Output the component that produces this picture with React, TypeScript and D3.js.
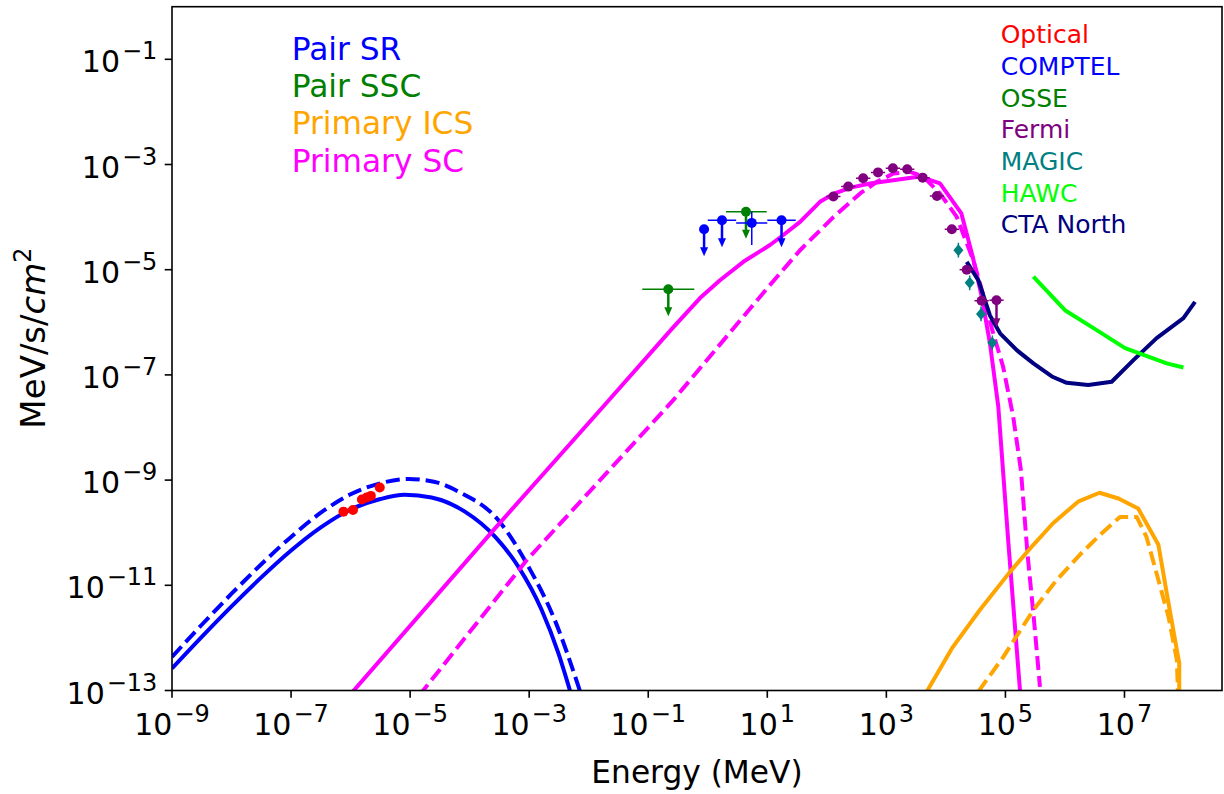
import React from "react";
import * as d3 from "d3";

// ---- data (log10 E [MeV], log10 flux [MeV/s/cm^2]) ----
const pairSRSolid: [number, number][] = [
  [-9.0, -12.58], [-8.5, -11.98], [-8.0, -11.4], [-7.5, -10.85], [-7.0, -10.34], [-6.5, -9.9],
  [-6.0, -9.56], [-5.5, -9.36], [-5.09, -9.28], [-4.64, -9.33], [-4.08, -9.6], [-3.57, -10.08],
  [-3.18, -10.65], [-2.79, -11.47], [-2.51, -12.29], [-2.31, -13.02],
];
const pairSRDashed: [number, number][] = [
  [-9.0, -12.36], [-8.5, -11.75], [-8.0, -11.16], [-7.5, -10.6], [-7.0, -10.08], [-6.5, -9.62],
  [-6.0, -9.27], [-5.5, -9.06], [-5.03, -8.98], [-4.6, -9.03], [-4.19, -9.22], [-3.52, -9.76],
  [-3.01, -10.65], [-2.57, -11.66], [-2.15, -13.0],
];
const primarySCSolid: [number, number][] = [
  [-6.0, -13.07], [-3.6, -9.95], [-1.755, -7.6], [-0.6, -6.12], [-0.13, -5.54], [0.205, -5.2],
  [0.597, -4.85], [1.045, -4.53], [1.27, -4.34], [1.55, -4.09], [1.885, -3.71],
  [2.11, -3.56], [2.4, -3.44], [2.725, -3.36], [3.565, -3.23], [3.9, -3.36], [4.26, -3.93],
  [4.45, -4.75], [4.6, -5.5], [4.74, -6.4], [4.88, -7.6], [5.05, -10.2], [5.245, -13.0],
];
const primarySCDashed: [number, number][] = [
  [-4.85, -13.1], [-3.04, -10.52], [-0.58, -7.48], [1.0, -5.35], [1.55, -4.63],
  [2.11, -4.0], [2.56, -3.55], [2.84, -3.33], [3.12, -3.17], [3.4, -3.14], [3.62, -3.23],
  [3.9, -3.55], [4.18, -3.99], [4.46, -4.82], [4.62, -5.45], [4.78, -6.15], [4.96, -6.84],
  [5.13, -7.79], [5.26, -8.81], [5.37, -10.39], [5.48, -11.66], [5.58, -12.93],
];
const primaryICSSolid: [number, number][] = [
  [3.68, -13.02], [4.1, -12.2], [4.57, -11.47], [5.08, -10.74], [5.47, -10.23], [5.8, -9.82],
  [6.22, -9.41], [6.58, -9.24], [6.9, -9.35], [7.23, -9.54], [7.57, -10.23],
  [7.71, -11.15], [7.85, -12.04], [7.92, -12.48], [7.92, -13.1],
];
const primaryICSDashed: [number, number][] = [
  [4.545, -13.02], [4.965, -12.36], [5.47, -11.47], [5.86, -10.9], [6.25, -10.42],
  [6.59, -10.04], [6.925, -9.7], [7.205, -9.7], [7.37, -10.08], [7.57, -10.9],
  [7.74, -11.6], [7.88, -12.42], [7.9, -13.1],
];
const ctaNorth: [number, number][] = [
  [4.35, -4.85], [4.545, -5.2], [4.74, -5.87], [4.91, -6.21], [5.19, -6.53], [5.47, -6.78],
  [5.78, -7.03], [6.03, -7.15], [6.39, -7.19], [6.785, -7.13], [7.15, -6.72],
  [7.54, -6.3], [7.99, -5.92], [8.185, -5.61],
];
const hawc: [number, number][] = [
  [5.47, -5.13], [6.0, -5.77], [6.48, -6.11], [7.01, -6.49], [7.32, -6.62], [7.71, -6.78], [7.99, -6.86],
];
const optical: [number, number][] = [
  [-6.12, -9.6], [-5.96, -9.57], [-5.81, -9.37], [-5.73, -9.33], [-5.66, -9.3], [-5.51, -9.14],
];
// [logE, logF, logE low, logE high, upper limit?, logF low, logF high]
const comptel: [number, number, number, number, boolean, number, number][] = [
  [-0.062, -4.23, -0.125, 0.0, true, 0, 0],
  [0.239, -4.06, 0.0, 0.477, true, 0, 0],
  [0.739, -4.11, 0.477, 1.0, false, -4.53, -3.9],
  [1.239, -4.06, 1.0, 1.477, true, 0, 0],
];
const osse: [number, number, number, number][] = [
  [-0.663, -5.37, -1.1, -0.226],
  [0.642, -3.897, 0.306, 0.99],
];
// [logE, logF, upper limit?]
const fermi: [number, number, boolean][] = [
  [2.11, -3.61, false], [2.36, -3.42, false], [2.61, -3.26, false], [2.86, -3.15, false],
  [3.11, -3.07, false], [3.35, -3.09, false], [3.61, -3.25, false], [3.85, -3.6, false],
  [4.1, -4.23, false], [4.35, -5.0, false], [4.6, -5.59, false], [4.85, -5.58, true],
];
const magic: [number, number][] = [
  [4.21, -4.63], [4.4, -5.25], [4.59, -5.84], [4.78, -6.39],
];
const xTickExp = [-9, -7, -5, -3, -1, 1, 3, 5, 7];
const yTickExp = [-13, -11, -9, -7, -5, -3, -1];
const modelLegend = [
  { label: "Pair SR", color: "#0000ff" },
  { label: "Pair SSC", color: "#008000" },
  { label: "Primary ICS", color: "#ffa500" },
  { label: "Primary SC", color: "#ff00ff" },
];
const dataLegend = [
  { label: "Optical", color: "#ff0000" },
  { label: "COMPTEL", color: "#0000ff" },
  { label: "OSSE", color: "#008000" },
  { label: "Fermi", color: "#800080" },
  { label: "MAGIC", color: "#008080" },
  { label: "HAWC", color: "#00ff00" },
  { label: "CTA North", color: "#000080" },
];

const W = 1224, H = 794;
const L = 172, R = 1222, T = 6.7, B = 690.5;
const P = (v: number) => Math.pow(10, v);
const x = d3.scaleLog().domain([1e-9, P(-9 + (R - L) / 59.53)]).range([L, R]);
const y = d3.scaleLog().domain([1e-13, 1]).range([B, T]);
const FONT = "DejaVu Sans, sans-serif";
const FS = 30;
const SUP = 24;

const line = (pts: [number, number][], curve: any = d3.curveLinear) =>
  d3.line<[number, number]>().x(d => x(P(d[0]))).y(d => y(P(d[1]))).curve(curve)(pts) || "";

const Arrow = ({ cx, cy, color }: { cx: number; cy: number; color: string }) => {
  const len = 27;
  return (
    <g>
      <line x1={cx} y1={cy} x2={cx} y2={cy + len - 6} stroke={color} strokeWidth={2.5} />
      <path d={`M${cx - 4},${cy + len - 9} L${cx + 4},${cy + len - 9} L${cx},${cy + len} Z`} fill={color} />
    </g>
  );
};

const PowLabel = ({ e, tx, ty, anchor }: { e: number; tx: number; ty: number; anchor: string }) => (
  <text x={tx} y={ty} fontFamily={FONT} fontSize={FS} textAnchor={anchor} fill="#000">
    10<tspan fontSize={SUP} dx={2} dy={-13}>{(e < 0 ? "\u2212" : "") + Math.abs(e)}</tspan>
  </text>
);

export default function App() {
  return (
    <svg width={W} height={H} style={{ position: "absolute", left: 0, top: 0, background: "#fff" }}>
      <defs>
        <clipPath id="plot"><rect x={L} y={T} width={R - L} height={B - T} /></clipPath>
      </defs>
      <rect x={0} y={0} width={W} height={H} fill="#fff" />
      <g clipPath="url(#plot)" fill="none" strokeWidth={4} strokeLinejoin="round">
        <path d={line(pairSRSolid, d3.curveMonotoneX)} stroke="#0000ff" />
        <path d={line(pairSRDashed, d3.curveMonotoneX)} stroke="#0000ff" strokeDasharray="14,6" />
        <path d={line(primarySCSolid)} stroke="#ff00ff" />
        <path d={line(primarySCDashed)} stroke="#ff00ff" strokeDasharray="14,6" />
        <path d={line(primaryICSSolid)} stroke="#ffa500" />
        <path d={line(primaryICSDashed)} stroke="#ffa500" strokeDasharray="14,6" />
        <path d={line(ctaNorth)} stroke="#000080" />
        <path d={line(hawc)} stroke="#00ff00" />
      </g>
      <g clipPath="url(#plot)">
        {optical.map((d, i) => (
          <circle key={"o" + i} cx={x(P(d[0]))} cy={y(P(d[1]))} r={5} fill="#ff0000" />
        ))}
        {osse.map((d, i) => {
          const cx = x(P(d[0])), cy = y(P(d[1]));
          return (
            <g key={"s" + i}>
              <line x1={x(P(d[2]))} x2={x(P(d[3]))} y1={cy} y2={cy} stroke="#008000" strokeWidth={1.5} />
              <Arrow cx={cx} cy={cy} color="#008000" />
              <circle cx={cx} cy={cy} r={5} fill="#008000" />
            </g>
          );
        })}
        {comptel.map((d, i) => {
          const cx = x(P(d[0])), cy = y(P(d[1]));
          return (
            <g key={"c" + i}>
              <line x1={x(P(d[2]))} x2={x(P(d[3]))} y1={cy} y2={cy} stroke="#0000ff" strokeWidth={1.5} />
              {d[4] ? <Arrow cx={cx} cy={cy} color="#0000ff" /> :
                <line x1={cx} x2={cx} y1={y(P(d[5]))} y2={y(P(d[6]))} stroke="#0000ff" strokeWidth={1.5} />}
              <circle cx={cx} cy={cy} r={5} fill="#0000ff" />
            </g>
          );
        })}
        {fermi.map((d, i) => {
          const cx = x(P(d[0])), cy = y(P(d[1]));
          return (
            <g key={"f" + i}>
              <line x1={x(P(d[0] - 0.12))} x2={x(P(d[0] + 0.12))} y1={cy} y2={cy} stroke="#800080" strokeWidth={1.5} />
              {d[2] ? <Arrow cx={cx} cy={cy} color="#800080" /> :
                <line x1={cx} x2={cx} y1={y(P(d[1] - 0.05))} y2={y(P(d[1] + 0.05))} stroke="#800080" strokeWidth={1.5} />}
              <circle cx={cx} cy={cy} r={5} fill="#800080" />
            </g>
          );
        })}
        {magic.map((d, i) => {
          const cx = x(P(d[0])), cy = y(P(d[1]));
          return (
            <g key={"m" + i}>
              <line x1={cx} x2={cx} y1={y(P(d[1] - 0.14))} y2={y(P(d[1] + 0.14))} stroke="#008080" strokeWidth={1.5} />
              <path d={`M${cx},${cy - 6} L${cx + 5},${cy} L${cx},${cy + 6} L${cx - 5},${cy} Z`} fill="#008080" />
            </g>
          );
        })}
      </g>
      {/* frame */}
      <rect x={L} y={T} width={R - L} height={B - T} fill="none" stroke="#000" strokeWidth={1.6} />
      {xTickExp.map(e => {
        const px = x(P(e));
        return (
          <g key={"xt" + e}>
            <line x1={px} x2={px} y1={B} y2={B + 7.3} stroke="#000" strokeWidth={1.6} />
            <PowLabel e={e} tx={px} ty={B + 44} anchor="middle" />
          </g>
        );
      })}
      {yTickExp.map(e => {
        const py = y(P(e));
        return (
          <g key={"yt" + e}>
            <line x1={L - 7.3} x2={L} y1={py} y2={py} stroke="#000" strokeWidth={1.6} />
            <PowLabel e={e} tx={L - 14.6} ty={py + 13} anchor="end" />
          </g>
        );
      })}
      <text x={(L + R) / 2} y={783} textAnchor="middle" fontFamily={FONT} fontSize={31.25} fill="#000">Energy (MeV)</text>
      <text transform={`translate(45,${338}) rotate(-90)`} textAnchor="middle" fontFamily={FONT} fontSize={34} fill="#000">
        MeV/s/<tspan fontStyle="italic">cm</tspan><tspan fontSize={24} dy={-14}>2</tspan>
      </text>
      {modelLegend.map((d, i) => (
        <text key={d.label} x={291.7} y={60 + i * 37.2} fontFamily={FONT} fontSize={31.25} fill={d.color}>{d.label}</text>
      ))}
      {dataLegend.map((d, i) => (
        <text key={d.label} x={1000.7} y={43.3 + i * 31.65} fontFamily={FONT} fontSize={25} fill={d.color}>{d.label}</text>
      ))}
    </svg>
  );
}
